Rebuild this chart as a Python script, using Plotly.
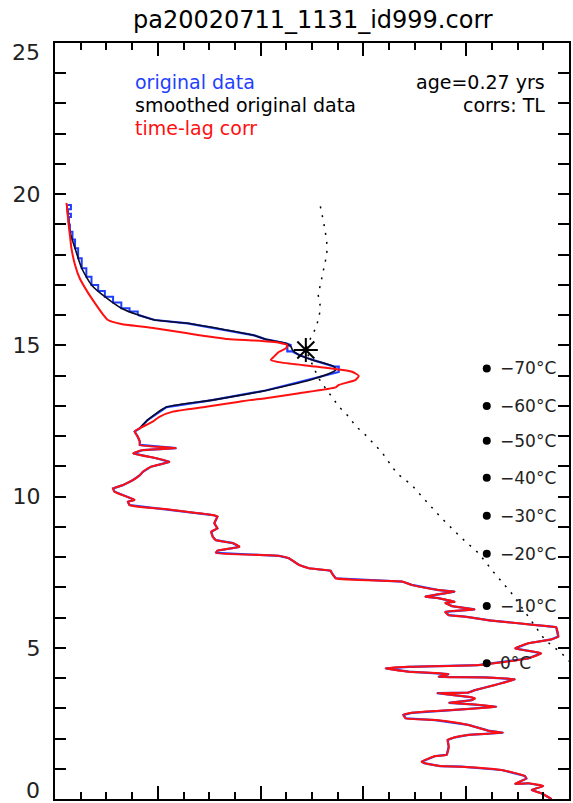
import plotly.graph_objects as go

# ---- shared lower profile (all three series coincide below ~12.3 km) ----
low_rh = [96.6, 94.6, 92.7, 95.0, 92.1, 89.5, 91.7, 91.4, 86.9, 79.1, 74.9, 72.0, 71.3, 74.0, 76.2,
          76.6, 76.4, 77.8, 80.4, 87.2, 84.3, 80.4, 74.0, 68.2, 67.8, 69.4, 77.2, 82.4, 85.9, 81.1,
          76.6, 81.1, 81.7, 80.4, 74.3, 80.4, 81.7, 85.6, 89.5, 83.7, 74.6, 76.6, 68.8, 64.3, 68.8,
          82.4, 92.1, 94.6, 89.5, 92.1, 96.6, 97.9, 97.5, 96.6, 84.9, 79.8, 76.6, 75.9, 81.7, 77.2,
          75.9, 77.8, 74.6, 72.0, 77.8, 74.6, 69.4, 67.5, 54.6, 53.9, 53.6, 49.4, 47.5, 45.5, 43.6,
          31.3, 31.6, 35.9, 34.6, 31.3, 30.7, 30.4, 31.6, 31.0, 31.6, 30.7, 22.9, 14.5, 14.2, 15.5,
          13.9, 11.6, 11.3, 13.2, 15.2, 16.5, 17.1, 18.7, 22.3, 19.7, 15.2, 17.1, 23.6, 16.5, 16.5,
          16.1, 15.5, 16.5]
low_h = [0.00, 0.19, 0.30, 0.43, 0.52, 0.50, 0.68, 0.76, 0.96, 1.07, 1.09, 1.18, 1.23, 1.42, 1.46,
         1.73, 1.95, 2.04, 2.12, 2.19, 2.26, 2.45, 2.61, 2.67, 2.78, 2.85, 2.94, 3.00, 3.05, 3.13,
         3.18, 3.27, 3.33, 3.38, 3.50, 3.52, 3.60, 3.77, 3.96, 4.02, 4.04, 4.13, 4.21, 4.32, 4.37,
         4.43, 4.65, 4.82, 4.98, 5.15, 5.28, 5.37, 5.68, 5.70, 5.90, 6.03, 6.08, 6.19, 6.27, 6.38,
         6.49, 6.52, 6.64, 6.69, 6.86, 6.91, 7.08, 7.19, 7.30, 7.46, 7.55, 7.63, 7.74, 7.96, 8.04,
         8.14, 8.21, 8.34, 8.46, 8.56, 8.67, 8.84, 8.95, 9.12, 9.34, 9.39, 9.56, 9.72, 9.83, 9.89,
         10.00, 10.16, 10.27, 10.38, 10.55, 10.71, 10.82, 10.99, 11.15, 11.27, 11.43, 11.54, 11.60, 11.71, 11.82,
         11.98, 12.15, 12.26]

# ---- upper part: time-lag corrected (red) ----
tl_rh = [19.0, 20.3, 22.9, 29.4, 35.9, 37.8, 41.0, 47.5, 54.6, 55.2, 58.5, 59.1, 57.8, 50.7, 44.2,
         42.0, 42.6, 43.6, 44.9, 45.2, 43.6, 38.8, 33.6, 25.8, 19.4, 12.9, 10.3, 9.4, 7.8, 6.5,
         4.8, 3.9, 3.2, 2.9, 2.6, 2.3, 2.2]
tl_h = [12.48, 12.64, 12.81, 12.97, 13.14, 13.19, 13.25, 13.42, 13.61, 13.69, 13.86, 13.99, 14.13, 14.30, 14.43,
        14.52, 14.63, 14.79, 14.90, 15.01, 15.09, 15.16, 15.21, 15.40, 15.57, 15.71, 15.84, 16.01, 16.39, 16.72,
        17.22, 17.66, 18.21, 18.65, 19.09, 19.64, 19.71]

# ---- upper part: smoothed original data (black) ----
sm_rh = [18.0, 21.7, 30.6, 41.0, 50.7, 54.6, 54.3, 50.1, 47.5, 46.2, 45.9, 44.9, 41.0, 38.8, 32.3,
         25.8, 19.4, 16.1, 12.9, 9.7, 7.1, 5.2, 3.9, 2.9, 2.5, 2.3]
sm_h = [12.53, 12.96, 13.19, 13.51, 13.91, 14.19, 14.30, 14.52, 14.68, 14.85, 14.96, 15.07, 15.20, 15.33, 15.54,
        15.73, 15.84, 16.01, 16.23, 16.61, 17.00, 17.55, 18.21, 18.76, 19.31, 19.64]

# ---- upper part: original data (blue) ----
orig_mid_rh = [16.5, 18.0, 21.7, 30.6, 41.0, 50.7, 55.2, 55.2, 54.3, 50.1, 47.5, 46.2, 45.2, 45.2, 46.0,
               44.9, 41.0, 38.8, 32.3, 25.8, 19.4, 16.1]
orig_mid_h = [12.26, 12.53, 12.96, 13.19, 13.51, 13.91, 14.12, 14.30, 14.30, 14.52, 14.68, 14.80, 14.80, 15.00, 15.00,
              15.07, 15.20, 15.33, 15.54, 15.73, 15.84, 16.01]
orig_top_rh = [16.1, 14.5, 12.9, 11.3, 9.7, 8.4, 7.1, 6.1, 5.2, 4.5, 3.9, 3.4, 2.9, 2.7, 3.1, 2.5, 3.1, 2.4]
orig_top_h = [16.01, 16.12, 16.23, 16.42, 16.61, 16.80, 17.00, 17.27, 17.55, 17.88, 18.21, 18.50, 18.76, 19.00,
              19.25, 19.35, 19.50, 19.64]

# ---- temperature profile (dotted) ----
temp_c = [0.8, -1.7, -6.3, -11.0, -15.8, -20.9, -25.1, -29.9, -35.6, -41.5, -44.0, -48.3, -52.5, -57.6, -59.9,
          -61.8, -64.6, -68.4, -70.3, -71.7, -74.0, -73.6, -72.3, -71.2, -70.5, -69.8, -70.5, -69.8, -69.3, -68.4,
          -67.9, -68.2, -68.9, -69.8, -70.0]
temp_h = [4.53, 4.83, 5.26, 6.02, 6.81, 7.51, 8.13, 8.63, 9.29, 10.05, 10.38, 10.78, 11.47, 12.10, 12.33,
          12.64, 12.97, 13.58, 13.90, 14.25, 14.85, 15.01, 15.29, 15.57, 15.84, 16.23, 16.67, 17.05, 17.44, 17.82,
          18.21, 18.54, 19.04, 19.53, 19.66]

trop_t = [-74.0]
trop_h = [14.85]

# ---- temperature level markers ----
lvl_labels = ["\u221270\u00b0C", "\u221260\u00b0C", "\u221250\u00b0C", "\u221240\u00b0C",
              "\u221230\u00b0C", "\u221220\u00b0C", "\u221210\u00b0C", "0\u00b0C"]
lvl_h = [14.24, 13.00, 11.85, 10.62, 9.37, 8.11, 6.38, 4.49]
lvl_x = 84

# ---- y tick labels ----
y_inner_ticks = [5, 10, 15, 20]
y_end_ticks = [0, 25]

FONT = "DejaVu Sans"
BLUE = "#1f3fff"
RED = "#ff1010"

fig = go.Figure()

fig.add_trace(go.Scatter(x=low_rh, y=low_h, mode="lines",
                         line=dict(color=BLUE, width=2.2), showlegend=False))
fig.add_trace(go.Scatter(x=orig_mid_rh, y=orig_mid_h, mode="lines",
                         line=dict(color=BLUE, width=2.2), showlegend=False))
fig.add_trace(go.Scatter(x=orig_top_rh, y=orig_top_h, mode="lines", line_shape="vh",
                         line=dict(color=BLUE, width=2), showlegend=False))
fig.add_trace(go.Scatter(x=low_rh[-1:] + sm_rh, y=low_h[-1:] + sm_h, mode="lines",
                         line=dict(color="#0a0a2a", width=1.6, shape="spline", smoothing=0.6),
                         showlegend=False))
fig.add_trace(go.Scatter(x=low_rh + tl_rh, y=low_h + tl_h, mode="lines",
                         line=dict(color=RED, width=2, shape="spline", smoothing=0.5),
                         showlegend=False))
fig.add_trace(go.Scatter(x=temp_c, y=temp_h, xaxis="x2", mode="lines",
                         line=dict(color="black", width=1.5, dash="2px,7px"), showlegend=False))
fig.add_trace(go.Scatter(x=trop_t, y=trop_h, xaxis="x2", mode="markers",
                         marker=dict(symbol="asterisk", size=20,
                                     line=dict(color="black", width=2)), showlegend=False))
fig.add_trace(go.Scatter(x=[lvl_x] * len(lvl_h), y=lvl_h, mode="markers",
                         marker=dict(color="black", size=8), showlegend=False))

ann = []
for t, h in zip(lvl_labels, lvl_h):
    ann.append(dict(x=lvl_x, y=h, xref="x", yref="y", text=t, showarrow=False,
                    xanchor="left", yanchor="middle", xshift=11,
                    font=dict(family=FONT, size=17, color="#222")))
for v, shift in zip(y_end_ticks, [9, -9]):
    ann.append(dict(x=0, y=v, xref="paper", yref="y", text=str(v), showarrow=False,
                    xanchor="right", yanchor="middle", xshift=-13, yshift=shift,
                    font=dict(family=FONT, size=22, color="#222")))
ann += [
    dict(x=15.1, y=23.71, xref="x", yref="y", text="original data", showarrow=False,
         xanchor="left", yanchor="middle", font=dict(family=FONT, size=19, color=BLUE)),
    dict(x=15.1, y=22.95, xref="x", yref="y", text="smoothed original data", showarrow=False,
         xanchor="left", yanchor="middle", font=dict(family=FONT, size=19, color="black")),
    dict(x=15.1, y=22.19, xref="x", yref="y", text="time-lag corr", showarrow=False,
         xanchor="left", yanchor="middle", font=dict(family=FONT, size=19, color=RED)),
    dict(x=95.7, y=23.71, xref="x", yref="y", text="age=0.27 yrs", showarrow=False,
         xanchor="right", yanchor="middle", font=dict(family=FONT, size=19, color="black")),
    dict(x=95.7, y=22.95, xref="x", yref="y", text="corrs: TL", showarrow=False,
         xanchor="right", yanchor="middle", font=dict(family=FONT, size=19, color="black")),
]

axis_common = dict(showgrid=False, zeroline=False, showline=True, linecolor="black",
                   linewidth=2, mirror="allticks", ticks="inside", tickcolor="black")

fig.update_layout(
    width=573, height=803,
    margin=dict(l=55, r=2, t=43, b=4),
    paper_bgcolor="white", plot_bgcolor="white",
    title=dict(text="pa20020711_1131_id999.corr", x=0.546, xanchor="center",
               y=0.975, yanchor="middle",
               font=dict(family=FONT, size=24, color="black")),
    xaxis=dict(range=[0, 100], tick0=0, dtick=20, showticklabels=False,
               ticklen=13, tickwidth=2,
               minor=dict(dtick=5, ticklen=7, tickwidth=2, ticks="inside", tickcolor="black"),
               **axis_common),
    xaxis2=dict(range=[-145, 0.5], overlaying="x", visible=False),
    yaxis=dict(range=[0, 25], tickvals=y_inner_ticks + y_end_ticks,
               ticktext=[str(v) for v in y_inner_ticks] + ["", ""],
               ticklen=11, tickwidth=2,
               tickfont=dict(family=FONT, size=22, color="#222"),
               ticklabelstandoff=8,
               minor=dict(dtick=1, ticklen=7, tickwidth=2, ticks="inside", tickcolor="black"),
               **axis_common),
    annotations=ann,
    showlegend=False,
)

fig.write_html("out.html", config={"displayModeBar": False},
               post_script="document.body.style.margin='0';")
